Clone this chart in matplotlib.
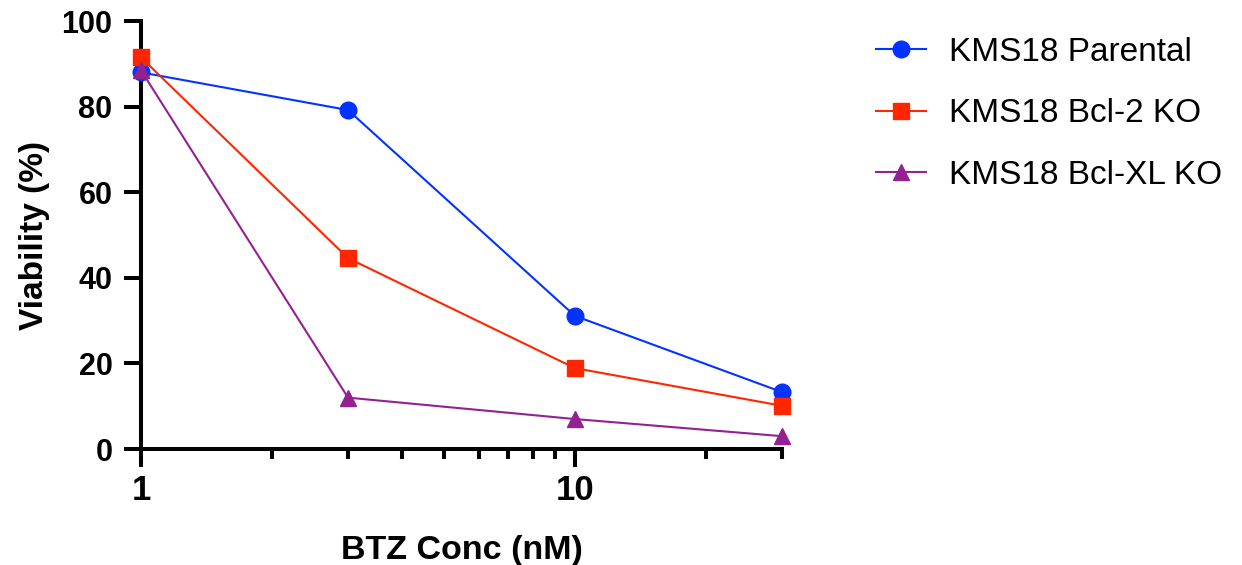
import numpy as np
import matplotlib
matplotlib.use('Agg')
import matplotlib.pyplot as plt
from matplotlib.ticker import FixedLocator, NullFormatter

plt.rcParams['font.family'] = ['Liberation Sans', 'DejaVu Sans']

# data
conc = [1, 3, 10, 30]
parental = [88.0, 79.2, 31.1, 13.3]
bcl2_ko = [91.5, 44.6, 18.9, 10.1]
bclxl_ko = [88.5, 12.0, 7.0, 3.0]
labels = ['KMS18 Parental', 'KMS18 Bcl-2 KO', 'KMS18 Bcl-XL KO']
colors = ['#0433FF', '#FF2600', '#942192']
markers = ['o', 's', '^']
msizes = [12, 11, 12]

fig = plt.figure(figsize=(12.42, 5.65), dpi=100)
ax = fig.add_axes([0.1135, 0.2053, 0.5161, 0.7575])

for ys, lab, c, m, ms in zip([parental, bcl2_ko, bclxl_ko], labels, colors, markers, msizes):
    ax.plot(conc, ys, '-', color=c, marker=m, markersize=ms, linewidth=1.5,
            label=lab, clip_on=False, zorder=3)

ax.set_xscale('log')
ax.set_xlim(1, 30)
ax.set_ylim(0, 100)
ax.xaxis.set_major_locator(FixedLocator([1, 10]))
ax.set_xticklabels(['1', '10'])
ax.xaxis.set_minor_locator(FixedLocator([2, 3, 4, 5, 6, 7, 8, 9, 20, 30]))
ax.xaxis.set_minor_formatter(NullFormatter())
ax.set_yticks([0, 20, 40, 60, 80, 100])

for s in ['top', 'right']:
    ax.spines[s].set_visible(False)
for s in ['left', 'bottom']:
    ax.spines[s].set_linewidth(2.9)

ax.tick_params(axis='y', which='major', width=2.9, length=12.5, direction='out', labelsize=22, pad=8)
ax.tick_params(axis='x', which='major', width=2.9, length=13, direction='out', labelsize=25, pad=5)
ax.tick_params(axis='x', which='minor', width=2.9, length=7)
for t in ax.get_yticklabels() + ax.get_xticklabels():
    t.set_fontweight('bold')

ax.set_xlabel('BTZ Conc (nM)', fontsize=24.5, fontweight='bold', labelpad=20)
ax.set_ylabel('Viability (%)', fontsize=24, fontweight='bold', labelpad=8)

fig.legend(loc='upper left', bbox_to_anchor=(0.681, 0.988), frameon=False,
           fontsize=24, handlelength=1.5, labelspacing=0.92, handletextpad=0.7)

plt.savefig('out.png', dpi=100)
